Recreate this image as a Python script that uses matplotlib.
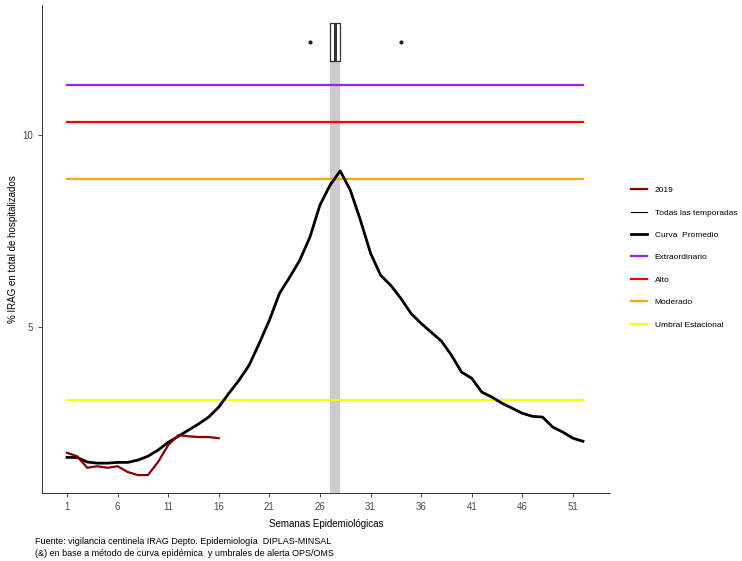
import matplotlib
matplotlib.use("Agg")

import matplotlib.pyplot as plt
from matplotlib.lines import Line2D

plt.rcParams["font.family"] = ["Liberation Sans", "DejaVu Sans"]

weeks = list(range(1, 53))
promedio = [1.61, 1.61, 1.49, 1.46, 1.46, 1.48, 1.48, 1.54, 1.64, 1.80,
            2.00, 2.16, 2.32, 2.48, 2.66, 2.92, 3.28, 3.62, 4.01, 4.58,
            5.18, 5.88, 6.30, 6.74, 7.34, 8.18, 8.70, 9.07, 8.57, 7.79,
            6.93, 6.35, 6.09, 5.75, 5.36, 5.10, 4.87, 4.64, 4.27, 3.83,
            3.67, 3.31, 3.18, 3.02, 2.89, 2.76, 2.68, 2.66, 2.40, 2.27,
            2.11, 2.03]

weeks_2019 = list(range(1, 17))
values_2019 = [1.73, 1.64, 1.34, 1.38, 1.34, 1.38, 1.23, 1.15, 1.15, 1.49,
               1.93, 2.19, 2.16, 2.14, 2.14, 2.11]

umbrales = {
    "Extraordinario": (11.30, "#A020F0"),
    "Alto": (10.34, "#FF0000"),
    "Moderado": (8.85, "#FFA500"),
    "Umbral Estacional": (3.10, "#FFFF00"),
}

# semana del peak (boxplot superior)
box_q1, box_med, box_q3 = 27, 27.5, 28
outliers = [25, 34]
box_y, box_h = 12.43, 0.97

fig = plt.figure(figsize=(7.42, 5.61), dpi=100)
ax = fig.add_axes([0.0566, 0.121, 0.7654, 0.870])

ylo, yhi = 0.68, 13.39

# banda gris en la semana del peak
ax.fill_between([box_q1, box_q3], ylo, box_y - box_h / 2, color="#CCCCCC", lw=0, zorder=1)

for name, (val, col) in umbrales.items():
    ax.plot([weeks[0], weeks[-1]], [val, val], color=col, lw=1.6, zorder=2)

ax.plot(weeks, promedio, color="black", lw=2.0, zorder=3)
ax.plot(weeks_2019, values_2019, color="#8B0000", lw=1.6, zorder=4)

# boxplot horizontal
ax.bxp([{"med": box_med, "q1": box_q1, "q3": box_q3, "whislo": box_q1,
         "whishi": box_q3, "fliers": outliers}],
       positions=[box_y], widths=box_h, vert=False, showcaps=False,
       boxprops=dict(color="#333333", lw=0.9),
       medianprops=dict(color="#333333", lw=2.2),
       whiskerprops=dict(lw=0),
       flierprops=dict(marker="o", markersize=2, markerfacecolor="#222222",
                       markeredgecolor="#222222"),
       manage_ticks=False, zorder=5)

ax.set_xlim(-1.47, 54.66)
ax.set_ylim(ylo, yhi)
ax.set_xticks(list(range(1, 52, 5)))
ax.set_yticks([5, 10])
ax.tick_params(colors="#4D4D4D", labelsize=7, length=3, width=0.6, color="#333333")
for s in ["top", "right"]:
    ax.spines[s].set_visible(False)
for s in ["left", "bottom"]:
    ax.spines[s].set_color("#333333")
    ax.spines[s].set_linewidth(0.7)

ax.set_xlabel("Semanas Epidemiológicas", fontsize=7)
ax.xaxis.set_label_coords(0.5, -0.054)
ax.set_ylabel("% IRAG en total de hospitalizados", fontsize=7)
ax.yaxis.set_label_coords(-0.042, 0.5)

handles = [
    Line2D([], [], color="#8B0000", lw=1.6),
    Line2D([], [], color="black", lw=0.8),
    Line2D([], [], color="black", lw=2.0),
] + [Line2D([], [], color=c, lw=1.6) for v, c in umbrales.values()]
labels = ["2019", "Todas las temporadas", "Curva  Promedio"] + list(umbrales.keys())
fig.legend(handles, labels, loc="upper left", bbox_to_anchor=(0.850, 0.668),
           frameon=False, fontsize=6, handlelength=2.0, labelspacing=1.75,
           handletextpad=0.9, borderpad=0, borderaxespad=0)

fig.text(0.047, 0.042, "Fuente: vigilancia centinela IRAG Depto. Epidemiología  DIPLAS-MINSAL\n"
         "(&) en base a método de curva epidémica  y umbrales de alerta OPS/OMS",
         fontsize=6.5, va="top", linespacing=1.3)

fig.savefig("out.png", dpi=100)
